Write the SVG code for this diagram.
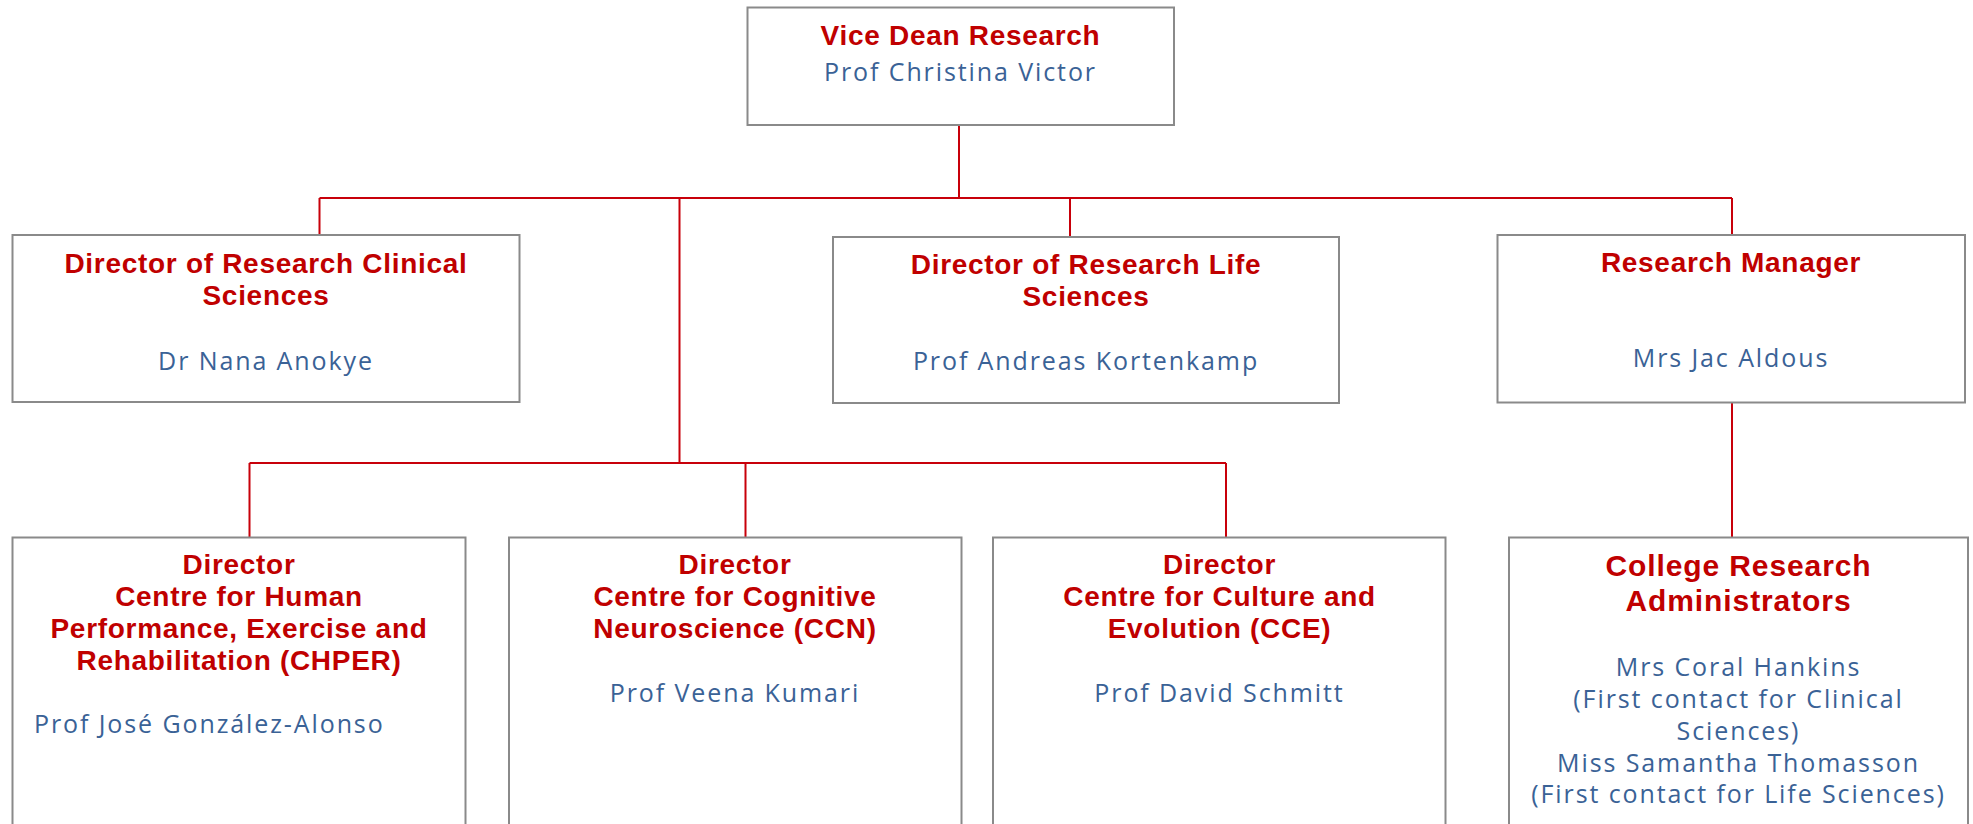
<svg xmlns="http://www.w3.org/2000/svg" width="1973" height="824" viewBox="0 0 1973 824">
<style>
.box{fill:#fff;stroke:#8a8a8a;stroke-width:2}
.t{font-family:"Liberation Sans",Arial,sans-serif;font-weight:bold;font-size:28px;fill:#C00000;text-anchor:middle;letter-spacing:0.7px}
.tb{font-size:30px;letter-spacing:0.9px}
.n{font-family:"Open Sans","Liberation Sans",sans-serif;font-weight:400;font-size:25px;fill:#3A6296;text-anchor:middle;letter-spacing:1.9px}
.c{stroke:#C8000A;stroke-width:2;fill:none}
</style>
<rect width="1973" height="824" fill="#fff"/>
<g id="connectors">
<path class="c" d="M959 125V198M319.5 198H1732M319.5 198V235M1070 198V237M1732 198V235M679.5 198V463M249.5 463H1226M249.5 463V537.5M745.5 463V537.5M1226 463V537.5M1732 402.5V537"/>
</g>
<g id="vice-dean">
<rect class="box" x="747.5" y="7.5" width="426.5" height="117.5"/>
<text class="t" x="960.5" y="45">Vice Dean Research</text>
<text class="n" x="960.5" y="81">Prof Christina Victor</text>
</g>
<g id="dir-clinical">
<rect class="box" x="12.5" y="235" width="507" height="167"/>
<text class="t" x="266" y="273">Director of Research Clinical</text>
<text class="t" x="266" y="304.5">Sciences</text>
<text class="n" x="266" y="370">Dr Nana Anokye</text>
</g>
<g id="dir-life">
<rect class="box" x="833" y="237" width="506" height="166"/>
<text class="t" x="1086" y="274">Director of Research Life</text>
<text class="t" x="1086" y="306">Sciences</text>
<text class="n" x="1086" y="370">Prof Andreas Kortenkamp</text>
</g>
<g id="research-manager">
<rect class="box" x="1497.5" y="235" width="467.5" height="167.5"/>
<text class="t" x="1731" y="271.7">Research Manager</text>
<text class="n" x="1731" y="366.7">Mrs Jac Aldous</text>
</g>
<g id="chper">
<rect class="box" x="12.5" y="537.5" width="453" height="300"/>
<text class="t" x="239" y="574">Director</text>
<text class="t" x="239" y="606">Centre for Human</text>
<text class="t" x="239" y="638">Performance, Exercise and</text>
<text class="t" x="239" y="670">Rehabilitation (CHPER)</text>
<text class="n" x="34" y="733" style="text-anchor:start">Prof José González-Alonso</text>
</g>
<g id="ccn">
<rect class="box" x="509" y="537.5" width="452.5" height="300"/>
<text class="t" x="735" y="573.5">Director</text>
<text class="t" x="735" y="605.7">Centre for Cognitive</text>
<text class="t" x="735" y="637.7">Neuroscience (CCN)</text>
<text class="n" x="735" y="701.7">Prof Veena Kumari</text>
</g>
<g id="cce">
<rect class="box" x="993" y="537.5" width="452.5" height="300"/>
<text class="t" x="1219.5" y="573.5">Director</text>
<text class="t" x="1219.5" y="605.7">Centre for Culture and</text>
<text class="t" x="1219.5" y="637.7">Evolution (CCE)</text>
<text class="n" x="1219.5" y="701.7">Prof David Schmitt</text>
</g>
<g id="college-admins">
<rect class="box" x="1509" y="537.5" width="459" height="300"/>
<text class="t tb" x="1738.5" y="576">College Research</text>
<text class="t tb" x="1738.5" y="610.7">Administrators</text>
<text class="n" x="1738.5" y="675.7">Mrs Coral Hankins</text>
<text class="n" x="1738.5" y="708">(First contact for Clinical</text>
<text class="n" x="1738.5" y="740">Sciences)</text>
<text class="n" x="1738.5" y="771.7">Miss Samantha Thomasson</text>
<text class="n" x="1738.5" y="803.3">(First contact for Life Sciences)</text>
</g>
</svg>
